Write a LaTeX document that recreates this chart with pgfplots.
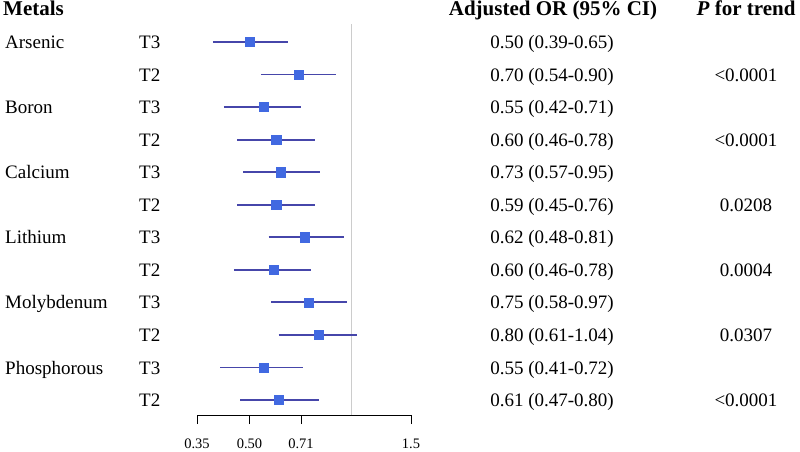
\documentclass[border=0pt]{standalone}
\usepackage{pgfplots}
\pgfplotsset{compat=1.18}
\usepackage{pgfplotstable}
\usepackage{fontspec}
\setmainfont{Liberation Serif}
\definecolor{cicol}{RGB}{70,70,170}
\definecolor{ptcol}{RGB}{65,105,225}
% plotted values (as drawn in the figure)
\pgfplotstableread{
y or lo hi
12 0.50 0.39 0.65
11 0.70 0.54 0.90
10 0.55 0.42 0.71
9 0.60 0.46 0.78
8 0.62 0.48 0.81
7 0.60 0.46 0.78
6 0.73 0.57 0.95
5 0.59 0.45 0.76
4 0.75 0.58 0.97
3 0.80 0.61 1.04
2 0.55 0.41 0.72
1 0.61 0.47 0.80
}\ortable
\newcommand\rowy[1]{(402.5-(#1-1)*32.55)*1pt}
\begin{document}
\begin{tikzpicture}
\path[use as bounding box] (0pt,0pt) rectangle (800pt,451pt);
\begin{axis}[
  at={(197pt,36pt)}, anchor=south west,
  scale only axis, width=214pt, height=415pt,
  xmode=log, xmin=0.35, xmax=1.5, ymin=0.539, ymax=13.289,
  axis x line*=bottom, axis y line=none,
  xtick={0.35,0.5,0.71,1.5}, xticklabels={0.35,0.50,0.71,1.5},
  minor xtick={}, tick align=outside, major tick length=9pt,
  xtick style={black, line width=0.8pt}, x axis line style={black, line width=0.8pt},
  xticklabel style={font=\fontsize{14.5}{14.5}\selectfont, inner sep=0pt, anchor=north},
  xticklabel shift=15pt,
  /pgf/number format/assume math mode=true,
  clip=false,
]
\addplot[gray!40, line width=1pt, mark=none, forget plot] coordinates {(1,0.539) (1,12.55)};
\addplot[cicol, line width=1.9pt, forget plot] coordinates {(0.39,12) (0.65,12)};
\addplot[cicol, line width=1.9pt, forget plot] coordinates {(0.54,11) (0.90,11)};
\addplot[cicol, line width=1.9pt, forget plot] coordinates {(0.42,10) (0.71,10)};
\addplot[cicol, line width=1.9pt, forget plot] coordinates {(0.46,9) (0.78,9)};
\addplot[cicol, line width=1.9pt, forget plot] coordinates {(0.48,8) (0.81,8)};
\addplot[cicol, line width=1.9pt, forget plot] coordinates {(0.46,7) (0.78,7)};
\addplot[cicol, line width=1.9pt, forget plot] coordinates {(0.57,6) (0.95,6)};
\addplot[cicol, line width=1.9pt, forget plot] coordinates {(0.45,5) (0.76,5)};
\addplot[cicol, line width=1.9pt, forget plot] coordinates {(0.58,4) (0.97,4)};
\addplot[cicol, line width=1.9pt, forget plot] coordinates {(0.61,3) (1.04,3)};
\addplot[cicol, line width=1.9pt, forget plot] coordinates {(0.41,2) (0.72,2)};
\addplot[cicol, line width=1.9pt, forget plot] coordinates {(0.47,1) (0.80,1)};
\addplot[only marks, mark=square*, mark size=4.6pt, mark options={fill=ptcol, draw=ptcol, line width=0.4pt}] table[x=or, y=y] {\ortable};
\end{axis}
\begin{scope}[every node/.style={inner sep=0pt, font=\fontsize{19}{19}\selectfont}]
\node[anchor=base west, font=\fontsize{21}{21}\selectfont\bfseries] at (3pt,435pt) {Metals};
\node[anchor=base, font=\fontsize{21}{21}\selectfont\bfseries] at (553pt,435pt) {Adjusted OR (95\% CI)};
\node[anchor=base, font=\fontsize{21}{21}\selectfont\bfseries] at (746pt,435pt) {\textit{P} for trend};
\foreach \i/\name in {1/Arsenic,3/Boron,5/Calcium,7/Lithium,9/Molybdenum,11/Phosphorous}
  \node[anchor=base west] at (5pt, {\rowy{\i}}) {\name};
\foreach \i/\t in {1/T3,2/T2,3/T3,4/T2,5/T3,6/T2,7/T3,8/T2,9/T3,10/T2,11/T3,12/T2}
  \node[anchor=base west] at (139pt, {\rowy{\i}}) {\t};
\foreach \i/\v in {1/0.50 (0.39-0.65),2/0.70 (0.54-0.90),3/0.55 (0.42-0.71),4/0.60 (0.46-0.78),5/0.73 (0.57-0.95),6/0.59 (0.45-0.76),7/0.62 (0.48-0.81),8/0.60 (0.46-0.78),9/0.75 (0.58-0.97),10/0.80 (0.61-1.04),11/0.55 (0.41-0.72),12/0.61 (0.47-0.80)}
  \node[anchor=base] at (552pt, {\rowy{\i}}) {\v};
\foreach \i/\p in {2/<0.0001,4/<0.0001,6/0.0208,8/0.0004,10/0.0307,12/<0.0001}
  \node[anchor=base] at (746pt, {\rowy{\i}}) {\p};
\end{scope}
\end{tikzpicture}
\end{document}
